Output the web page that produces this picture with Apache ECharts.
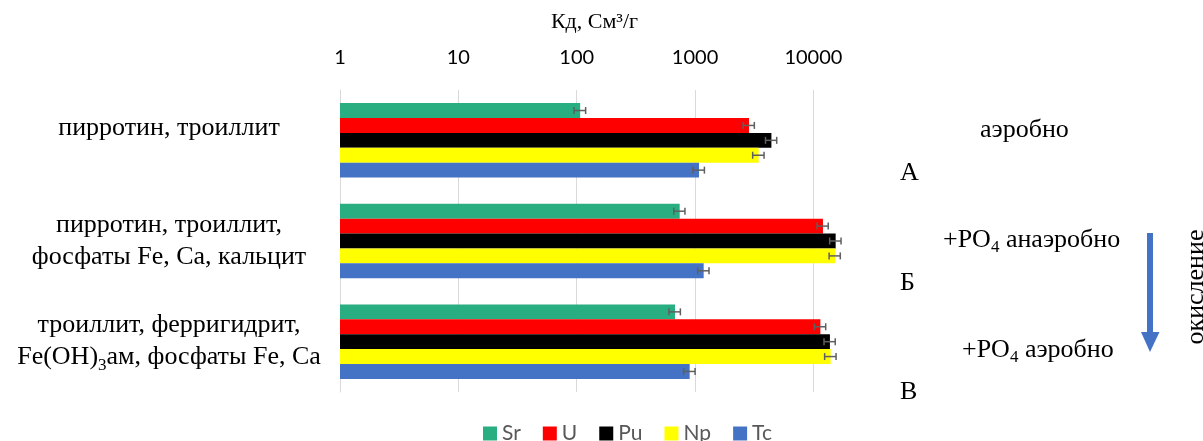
<!DOCTYPE html>
<html>
<head>
<meta charset="utf-8">
<script src="https://cdn.jsdelivr.net/npm/echarts@6/dist/echarts.min.js"></script>
<style>
  html, body { margin: 0; padding: 0; background: #fff; }
  #chart { width: 1203px; height: 441px; }
</style>
</head>
<body>
<div id="chart"></div>
<script>
// Mineral assemblages (category axis, top to bottom)
const categories = [
  'пирротин, троиллит',
  'пирротин, троиллит,\nфосфаты Fe, Ca, кальцит',
  'троиллит, ферригидрит,\nFe(OH)₃ам, фосфаты Fe, Ca'
];

// Distribution coefficients Kd, cm3/g
const seriesNames = ['Sr', 'U', 'Pu', 'Np', 'Tc'];
const sr = [107, 742, 677];
const u  = [2860, 12050, 11460];
const pu = [4420, 15430, 13800];
const np = [3450, 15230, 14000];
const tc = [1080, 1183, 901];

// Standard deviations
const srErr = [12, 80, 75];
const uErr  = [310, 1300, 1250];
const puErr = [480, 1700, 1500];
const npErr = [380, 1650, 1550];
const tcErr = [120, 130, 100];

// Log-axis tick labels
const tickLabels = ['1', '10', '100', '1000', '10000'];

const colors = ['#28AE80', '#FF0000', '#000000', '#FFFF00', '#4472C4'];
const values = [sr, u, pu, np, tc];
const errors = [srErr, uErr, puErr, npErr, tcErr];

const SERIF = '"Liberation Serif", "Times New Roman", serif';
const SANS = 'Lato, "Liberation Sans", sans-serif';
const GAP = 0.26;

const barSeries = seriesNames.map((name, k) => ({
  name: name,
  type: 'bar',
  data: values[k],
  itemStyle: { color: colors[k] },
  barGap: '0%',
  barCategoryGap: (GAP * 100) + '%',
  z: 2
}));

const errData = [];
values.forEach((arr, k) => arr.forEach((v, i) => errData.push([v, i, errors[k][i], k])));

// Error bars drawn centred on each bar of the group
const errSeries = {
  type: 'custom',
  name: 'err',
  data: errData,
  encode: { x: 0, y: 1 },
  z: 5,
  silent: true,
  renderItem: function (params, api) {
    const v = api.value(0), ci = api.value(1), e = api.value(2), k = api.value(3);
    const band = api.size([1, 1])[1];
    const barW = band * (1 - GAP) / seriesNames.length;
    const off = -band * (1 - GAP) / 2 + (k + 0.5) * barW;
    const lo = api.coord([v - e, ci]);
    const hi = api.coord([v + e, ci]);
    const y = lo[1] + off;
    const st = { stroke: '#5F5F5F', lineWidth: 1.5, fill: null };
    return {
      type: 'group',
      children: [
        { type: 'line', shape: { x1: lo[0], y1: y, x2: hi[0], y2: y }, style: st },
        { type: 'line', shape: { x1: lo[0], y1: y - 3.5, x2: lo[0], y2: y + 3.5 }, style: st },
        { type: 'line', shape: { x1: hi[0], y1: y - 3.5, x2: hi[0], y2: y + 3.5 }, style: st }
      ]
    };
  }
};

const chart = echarts.init(document.getElementById('chart'), null, { renderer: 'canvas' });

const textStyleSerif = { fontFamily: SERIF, fill: '#000', fontSize: 26 };
const subRich = { s: { fontFamily: SERIF, fontSize: 17, lineHeight: 14, verticalAlign: 'bottom' } };

chart.setOption({
  animation: false,
  backgroundColor: '#ffffff',
  grid: { left: 340, right: 354, top: 90, bottom: 49, containLabel: false },
  legend: {
    data: seriesNames,
    left: 478,
    top: 418,
    icon: 'rect',
    itemWidth: 14,
    itemHeight: 14,
    itemGap: 22,
    textStyle: { fontFamily: SANS, fontSize: 21, color: '#595959' }
  },
  xAxis: {
    type: 'log',
    logBase: 10,
    min: 1,
    max: 20000,
    position: 'top',
    name: 'Кд, См³/г',
    nameLocation: 'middle',
    nameGap: 57,
    nameTextStyle: { fontFamily: SERIF, fontSize: 22, color: '#000' },
    axisLine: { show: false },
    axisTick: { show: false },
    axisLabel: {
      showMaxLabel: false,
      margin: 22,
      fontFamily: SANS,
      fontSize: 20,
      color: '#000',
      formatter: function (v) {
        const idx = Math.round(Math.log10(v));
        return Math.abs(Math.log10(v) - idx) < 1e-6 ? tickLabels[idx] : '';
      }
    },
    splitLine: { show: true, showMaxLine: false, lineStyle: { color: '#D9D9D9', width: 1 } }
  },
  yAxis: {
    type: 'category',
    data: categories,
    inverse: true,
    axisTick: { show: false },
    axisLine: { show: true, lineStyle: { color: '#D9D9D9' } },
    axisLabel: {
      align: 'center',
      margin: 171,
      fontFamily: SERIF,
      fontSize: 26,
      lineHeight: 32,
      color: '#000',
      formatter: function (name, idx) {
        const txt = name.replace('₃', '{s|3}');
        return idx === 0 ? '{up|' + txt + '}' : txt;
      },
      rich: {
        s: { fontFamily: SERIF, fontSize: 17, lineHeight: 14, verticalAlign: 'bottom', color: '#000' },
        up: { fontFamily: SERIF, fontSize: 26, color: '#000', padding: [0, 0, 24, 0] }
      }
    }
  },
  series: barSeries.concat([errSeries]),
  graphic: [
    { type: 'text', left: 980, top: 117, style: Object.assign({ text: 'аэробно' }, textStyleSerif) },
    { type: 'text', left: 900, top: 160, style: Object.assign({ text: 'А' }, textStyleSerif) },
    {
      type: 'text', left: 943, top: 224,
      style: Object.assign({ text: '+PO{s|4} анаэробно', rich: subRich, lineHeight: 32 }, textStyleSerif)
    },
    { type: 'text', left: 900, top: 270, style: Object.assign({ text: 'Б' }, textStyleSerif) },
    {
      type: 'text', left: 962, top: 334,
      style: Object.assign({ text: '+PO{s|4} аэробно', rich: subRich, lineHeight: 32 }, textStyleSerif)
    },
    { type: 'text', left: 900, top: 379, style: Object.assign({ text: 'В' }, textStyleSerif) },
    {
      type: 'line',
      shape: { x1: 1150, y1: 233, x2: 1150, y2: 334 },
      style: { stroke: '#4472C4', lineWidth: 6 }
    },
    {
      type: 'polygon',
      shape: { points: [[1141, 332], [1159.5, 332], [1150, 352]] },
      style: { fill: '#4472C4' }
    },
    {
      type: 'text',
      x: 1196, y: 287,
      rotation: Math.PI / 2,
      style: Object.assign({ text: 'окисление', align: 'center', verticalAlign: 'middle' }, textStyleSerif)
    }
  ]
});
</script>
</body>
</html>
